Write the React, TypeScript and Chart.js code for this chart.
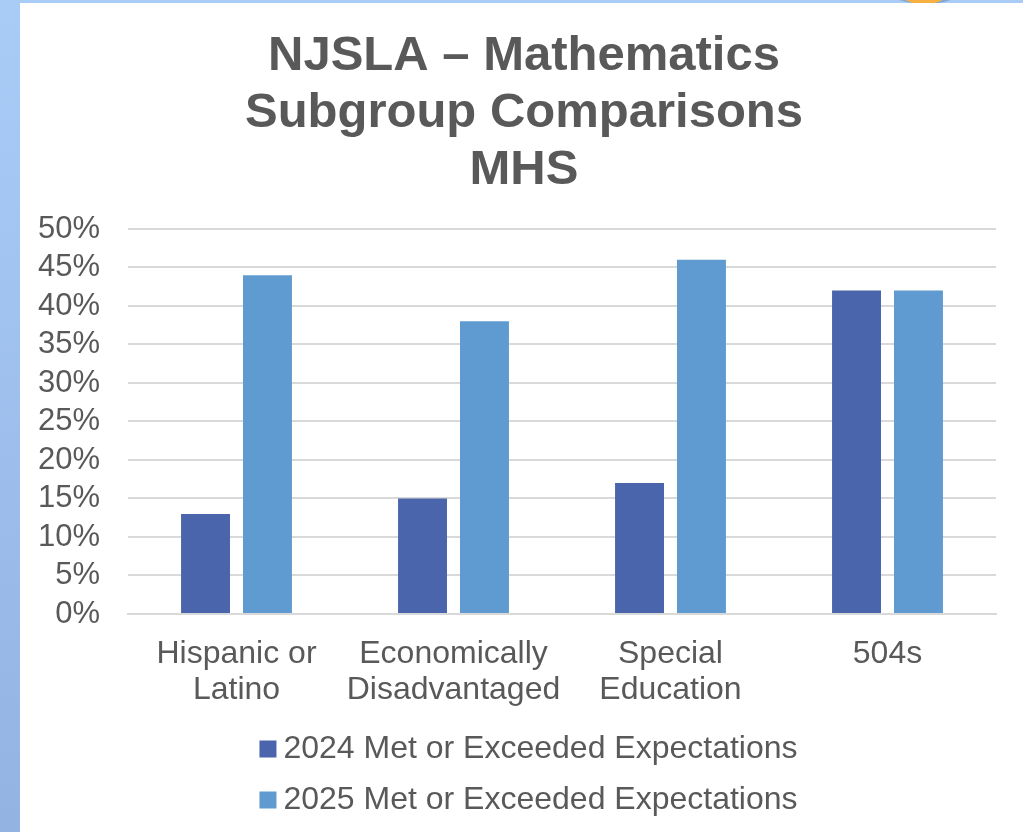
import React, { useEffect, useRef } from "react";
import { Chart, registerables } from "chart.js";

Chart.register(...registerables);

const categories: string[][] = [
  ["Hispanic or", "Latino"],
  ["Economically", "Disadvantaged"],
  ["Special", "Education"],
  ["504s"],
];
const series2024: number[] = [13, 15, 17, 42];
const series2025: number[] = [44, 38, 46, 42];
const label2024 = "2024 Met or Exceeded Expectations";
const label2025 = "2025 Met or Exceeded Expectations";
const titleLines: string[] = ["NJSLA \u2013 Mathematics", "Subgroup Comparisons", "MHS"];

const FONT = "'Liberation Sans', Arial, sans-serif";
const TEXT = "#595959";
const COLOR2024 = "#4A65AC";
const COLOR2025 = "#5F9BD0";

const legendBoxes = {
  id: "legendBoxes",
  afterDraw(chart: any) {
    const legend = chart.legend;
    if (!legend || !legend.legendHitBoxes) return;
    const ctx = chart.ctx;
    const colors = [COLOR2024, COLOR2025];
    legend.legendHitBoxes.forEach((hb: any, i: number) => {
      const size = 17;
      const x = hb.left + 9;
      const y = hb.top + (hb.height - size) / 2;
      ctx.save();
      ctx.fillStyle = colors[i];
      ctx.fillRect(x, y, size, size);
      ctx.restore();
    });
  },
};

export default function App() {
  const ref = useRef<HTMLCanvasElement | null>(null);

  useEffect(() => {
    if (!ref.current) return;
    const chart = new Chart(ref.current, {
      type: "bar",
      data: {
        labels: categories,
        datasets: [
          {
            label: label2024,
            data: series2024,
            backgroundColor: COLOR2024,
            borderWidth: 0,
            categoryPercentage: 0.571,
            barPercentage: 0.79,
          },
          {
            label: label2025,
            data: series2025,
            backgroundColor: COLOR2025,
            borderWidth: 0,
            categoryPercentage: 0.571,
            barPercentage: 0.79,
          },
        ],
      },
      plugins: [legendBoxes],
      options: {
        animation: false,
        responsive: false,
        maintainAspectRatio: false,
        layout: { padding: { left: 32, right: 27, top: 0, bottom: 6 } },
        plugins: {
          title: {
            display: true,
            text: titleLines,
            color: TEXT,
            font: { family: FONT, size: 49, weight: "bold", lineHeight: 1.163 },
            padding: { top: 25, bottom: 30 },
          },
          legend: {
            display: true,
            position: "bottom",
            labels: {
              color: TEXT,
              font: { family: FONT, size: 32 },
              boxWidth: 17,
              boxHeight: 17,
              padding: 19,
              generateLabels: (chart: any) =>
                chart.data.datasets.map((ds: any, i: number) => ({
                  text: ds.label,
                  fillStyle: "rgba(0,0,0,0)",
                  strokeStyle: "rgba(0,0,0,0)",
                  lineWidth: 0,
                  fontColor: TEXT,
                  hidden: false,
                  datasetIndex: i,
                })),
            },
          },
          tooltip: { enabled: false },
        },
        scales: {
          x: {
            afterFit: (scale: any) => {
              scale.height = scale.height - 16;
            },
            grid: { display: false, drawTicks: false },
            border: { display: true, color: "#D9D9D9", width: 2 },
            ticks: {
              color: TEXT,
              font: { family: FONT, size: 32, lineHeight: 1.125 },
              padding: 22,
              maxRotation: 0,
              autoSkip: false,
            },
          },
          y: {
            min: 0,
            max: 50,
            afterFit: (scale: any) => {
              scale.width = 76;
              scale._computeLabelArea = () => undefined;
            },
            grid: { color: "#D9D9D9", lineWidth: 2, drawTicks: false },
            border: { display: false },
            ticks: {
              stepSize: 5,
              autoSkip: false,
              color: TEXT,
              font: { family: FONT, size: 31 },
              padding: 28,
              callback: (v: any) => v + "%",
            },
          },
        },
      },
    });
    return () => chart.destroy();
  }, []);

  return (
    <div
      style={{
        position: "fixed",
        left: 0,
        top: 0,
        width: 1023,
        height: 832,
        overflow: "hidden",
        background: "linear-gradient(180deg, #A9CCF7 0%, #9CBDEB 60%, #93B4E2 100%)",
      }}
    >
      <div
        style={{
          position: "absolute",
          left: 880,
          top: -40,
          width: 90,
          height: 44,
          borderRadius: "50%",
          background: "radial-gradient(circle, #4E7FB8 0%, #A9CCF7 100%)",
        }}
      />
      <div
        style={{
          position: "absolute",
          left: 897,
          top: -25,
          width: 54,
          height: 29,
          borderRadius: "50%",
          background: "#F8B041",
        }}
      />
      <div
        style={{
          position: "absolute",
          left: 20,
          top: 3,
          width: 1003,
          height: 829,
          background: "#FFFFFF",
        }}
      >
        <canvas ref={ref} width={1003} height={829} style={{ display: "block" }} />
      </div>
    </div>
  );
}
